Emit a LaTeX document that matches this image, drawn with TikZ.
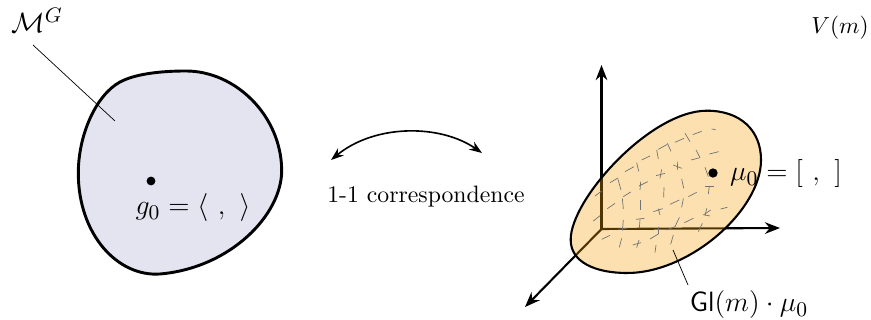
\documentclass[tikz,border=0pt]{standalone}
\usepackage{amsmath}
\usetikzlibrary{arrows.meta}
\definecolor{blobfill}{HTML}{E4E4F1}
\definecolor{orbitfill}{rgb}{0.96,0.63,0.06}
\tikzset{
    axis/.style={line width=0.9pt, -{Stealth[length=6.5pt, width=5pt]}},
    leader/.style={line width=0.3pt},
    mathlabel/.style={font=\fontsize{12.6}{15}\selectfont},
    hatch/.style={black!55, line width=0.3pt},
}
\begin{document}
\begin{tikzpicture}[x=0.43pt, y=-0.43pt]
    \useasboundingbox (0,0) rectangle (871,320);
    % left region
    \draw[line width=1.25pt, fill=blobfill] (78.3,173) .. controls (78.3,135) and (96,95) .. (120,82)
        .. controls (135,74) and (160,71) .. (186,71)
        .. controls (235,71) and (281,115) .. (281.7,170)
        .. controls (282,215) and (230,268) .. (160,274)
        .. controls (118,277) and (78.3,235) .. (78.3,173) -- cycle;
    \coordinate (blobdot) at (151,181);
    \fill (blobdot) circle (1.9pt);
    \node[mathlabel] (gzero) at (193,208) {$g_0 = \langle\ ,\ \rangle$};
    \node[mathlabel] (manifold) at (37,20) {$\mathcal{M}^G$};
    \coordinate (manifoldstart) at (33,45);
    \coordinate (manifoldend) at (115,121);
    \draw[leader] (manifoldstart) -- (manifoldend);
    % correspondence
    \coordinate (arcleft) at (331,160);
    \coordinate (arcright) at (482,153);
    \draw[line width=0.7pt, {Stealth[length=5.5pt, width=4pt]}-{Stealth[length=5.5pt, width=4pt]}] (arcleft) .. controls (375,124) and (440,124) .. (arcright);
    \node[font=\fontsize{10.2}{12}\selectfont] (corr) at (426,197) {1-1 correspondence};
    % axes
    \coordinate (origin) at (601.5,229);
    \coordinate (axisup) at (601.5,65);
    \coordinate (axisright) at (780,228);
    \coordinate (axisdown) at (525,307);
    \draw[axis] (origin) -- (axisup);
    \draw[axis] (origin) -- (axisright);
    \draw[axis] (origin) -- (axisdown);
    % orbit
    \draw[line width=0.9pt, fill=orbitfill, fill opacity=0.33] (570.7,240) .. controls (570,200) and (650,110.7) .. (707,110.7)
        .. controls (740,110.7) and (761,130) .. (761,160)
        .. controls (761,210) and (690,273) .. (627,273)
        .. controls (595,273) and (570.7,262) .. (570.7,240) -- cycle;
    \foreach \xa/\ya/\xb/\yb in {365/57/377/59, 308/74/335/64, 285/70/300/95, 255/97/282/85,
        232/100/243/124, 205/118/232/103, 200/120/205/147, 155/150/180/138, 140/158/146/184,
        105/185/132/170, 60/218/84/204, 84/208/93/240, 15/258/35/243, 358/132/386/125,
        303/150/330/143, 330/143/318/120, 250/165/275/175, 263/155/262/180, 198/197/225/190,
        215/178/210/205, 147/228/173/215, 152/215/150/240, 100/260/122/246, 52/296/75/280,
        97/265/100/297, 10/333/30/317, 152/270/152/300, 222/232/221/262, 275/207/281/235,
        345/172/355/200, 295/260/320/247, 240/283/268/270, 280/265/275/292, 345/228/372/228,
        358/228/355/252, 190/305/218/296, 205/296/210/315, 138/328/163/325, 150/328/148/355,
        85/358/110/355, 100/330/97/362, 230/360/255/350, 268/322/255/350, 283/338/310/325,
        340/315/362/300, 350/295/345/318, 345/315/360/318, 392/297/412/292, 325/365/337/340,
        205/350/205/372, 205/372/180/387, 35/388/60/376, 95/385/88/412, 128/405/153/398,
        147/390/140/413, 198/405/195/428, 250/375/242/403}
        \draw[hatch] ({590+\xa/3},{110+\ya/3}) -- ({590+\xb/3},{110+\yb/3});
    \coordinate (orbitdot) at (713,173);
    \fill (orbitdot) circle (2pt);
    \node[mathlabel, anchor=west] (muzero) at (722,174) {$\mu_0 = [\ ,\ ]$};
    \node[mathlabel] (orbit) at (749,305) {$\mathsf{Gl}(m)\cdot\mu_0$};
    \coordinate (orbitstart) at (673,250);
    \coordinate (orbitend) at (688,285);
    \draw[leader] (orbitstart) -- (orbitend);
    \node (space) at (840,28) {$V(m)$};
\end{tikzpicture}
\end{document}
